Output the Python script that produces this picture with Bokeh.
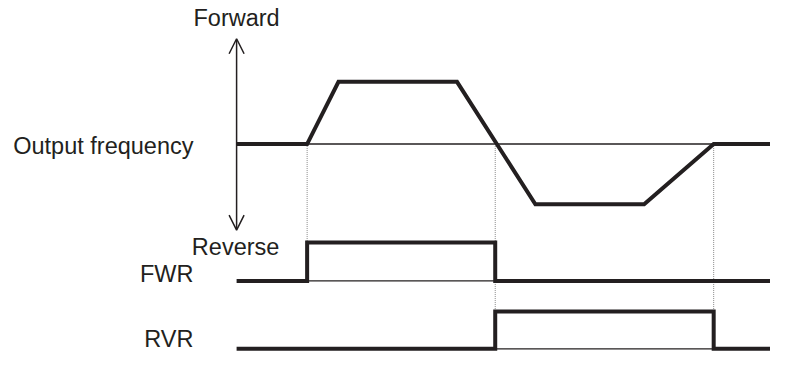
from bokeh.plotting import figure
from bokeh.models import Range1d, Arrow, OpenHead
from bokeh.core.properties import value
from bokeh.embed import file_html
from bokeh.resources import INLINE

# ---- data (time in arbitrary units, 0 = the frequency axis) ----
freq_t = [0, 72, 104, 225, 305, 416, 487, 545]
freq_v = [0, 0, 65, 65, -63, -63, 0, 0]          # + forward, - reverse

fwr_t = [0, 72, 72, 264, 264, 545]
fwr_v = [0, 0, 1, 1, 0, 0]

rvr_t = [0, 264, 264, 487, 487, 545]
rvr_v = [0, 0, 1, 1, 0, 0]

events = [72, 264, 487]

labels = ["Output frequency", "FWR", "RVR"]
axis_labels = ["Forward", "Reverse"]

# ---- layout constants ----
FREQ_BASE = 222
FWR_BASE, FWR_AMP = 79, 40
RVR_BASE, RVR_AMP = 8, 39
INK = "#231f20"
FONT = value("Liberation Sans")
FS = "23.5px"
DY = 9   # baseline correction for the svg text renderer

p = figure(width=770, height=356, output_backend="svg", toolbar_location=None,
           x_range=Range1d(-241, 545), y_range=Range1d(0, 372),
           min_border=0, outline_line_color=None)
p.axis.visible = False
p.grid.visible = False

# thin reference lines
p.line([events[0], events[2]], [FREQ_BASE, FREQ_BASE], line_color=INK, line_width=1.4)
p.line([events[0], events[1]], [FWR_BASE, FWR_BASE], line_color=INK, line_width=1.4)
p.line([events[1], events[2]], [RVR_BASE, RVR_BASE], line_color=INK, line_width=1.4)

# dotted event markers
p.line([events[0], events[0]], [FREQ_BASE, FWR_BASE + FWR_AMP], line_color="#888888",
       line_width=1, line_dash="1 1")
for e in events[1:]:
    p.line([e, e], [FREQ_BASE, RVR_BASE + RVR_AMP], line_color="#888888",
           line_width=1, line_dash="1 1")

# thick waveforms
p.line(freq_t, [FREQ_BASE + v for v in freq_v], line_color=INK, line_width=4,
       line_join="miter")
p.line(fwr_t, [FWR_BASE + FWR_AMP * v for v in fwr_v], line_color=INK, line_width=4,
       line_join="miter")
p.line(rvr_t, [RVR_BASE + RVR_AMP * v for v in rvr_v], line_color=INK, line_width=4,
       line_join="miter")

# double-headed frequency axis arrow
p.add_layout(Arrow(x_start=0, y_start=132, x_end=0, y_end=332,
                   start=OpenHead(size=15, line_width=1.5, line_color=INK),
                   end=OpenHead(size=15, line_width=1.5, line_color=INK),
                   line_width=1.5, line_color=INK))

# texts
p.text(x=[0], y=[345 + DY], text=[axis_labels[0]], text_align="center",
       text_baseline="alphabetic", text_font=FONT, text_font_size=FS, text_color=INK)
p.text(x=[-1], y=[105 + DY], text=[axis_labels[1]], text_align="center",
       text_baseline="alphabetic", text_font=FONT, text_font_size=FS, text_color=INK)
p.text(x=[-44, -44, -44], y=[211 + DY, 77 + DY, 9 + DY], text=labels, text_align="right",
       text_baseline="alphabetic", text_font=FONT, text_font_size=FS, text_color=INK)

open("out.html", "w").write(file_html(p, INLINE))
